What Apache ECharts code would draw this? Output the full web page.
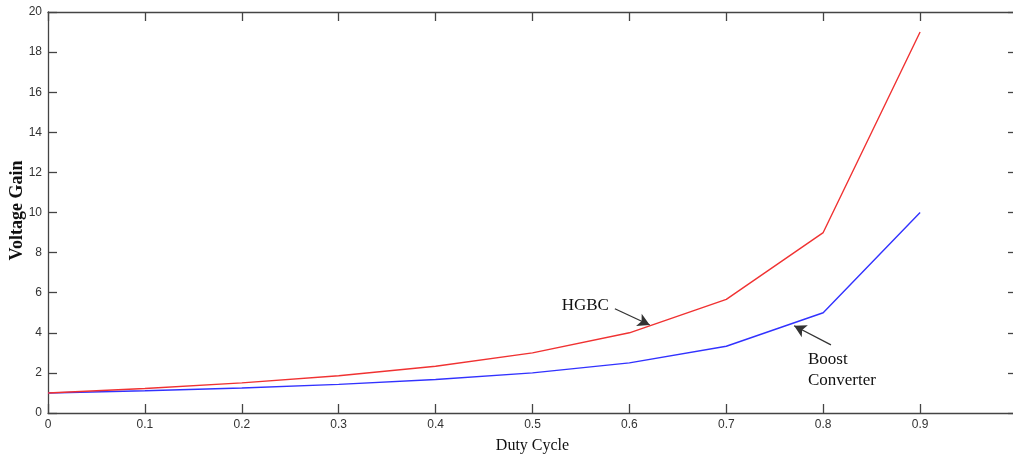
<!DOCTYPE html>
<html>
<head>
<meta charset="utf-8">
<script src="https://cdn.jsdelivr.net/npm/echarts@6/dist/echarts.min.js"></script>
<style>
  html, body { margin: 0; padding: 0; background: #fff; }
  #chart { width: 1013px; height: 457px; }
</style>
</head>
<body>
<div id="chart"></div>
<script>
// Duty cycle steps and voltage gain of the two converters
const dutyCycle = [0, 0.1, 0.2, 0.3, 0.4, 0.5, 0.6, 0.7, 0.8, 0.9];
const hgbcGain = [1.0, 1.22, 1.5, 1.86, 2.33, 3.0, 4.0, 5.67, 9.0, 19.0];
const boostGain = [1.0, 1.11, 1.25, 1.43, 1.67, 2.0, 2.5, 3.33, 5.0, 10.0];

// Annotation anchors in data units: [arrow tail, arrow tip]
const hgbcArrow = [[0.585, 5.2], [0.621, 4.39]];
const boostArrow = [[0.808, 3.4], [0.770, 4.35]];

const axisColor = '#444';
const tickFont = { fontFamily: '"Liberation Sans Narrow", "Liberation Sans", sans-serif', fontSize: 12, color: '#333' };
const serif = '"Liberation Serif", "DejaVu Serif", serif';

const chart = echarts.init(document.getElementById('chart'), null, { renderer: 'canvas' });

const boxAxis = {
  axisLine: { show: true, onZero: false, lineStyle: { color: axisColor, width: 1.3 } },
  axisTick: { show: true, inside: true, length: 9, lineStyle: { color: axisColor, width: 1.3 } },
  splitLine: { show: false }
};

function pairs(xs, ys) { return xs.map((x, i) => [x, ys[i]]); }

chart.setOption({
  animation: false,
  backgroundColor: '#fff',
  grid: { left: 48, right: -4, top: 12, bottom: 44, containLabel: false, outerBoundsMode: 'none' },
  xAxis: [
    Object.assign({
      type: 'value', min: 0, max: 1, interval: 0.1, position: 'bottom',
      name: 'Duty Cycle', nameLocation: 'middle', nameGap: 25,
      nameTextStyle: { fontFamily: serif, fontSize: 16, color: '#111' },
      axisLabel: Object.assign({ margin: 6, formatter: v => (Math.round(v * 10) / 10).toString() }, tickFont)
    }, boxAxis),
    Object.assign({
      type: 'value', min: 0, max: 1, interval: 0.1, position: 'top',
      axisLabel: { show: false }
    }, boxAxis)
  ],
  yAxis: [
    Object.assign({
      type: 'value', min: 0, max: 20, interval: 2, position: 'left',
      axisLabel: Object.assign({ margin: 6 }, tickFont)
    }, boxAxis),
    Object.assign({
      type: 'value', min: 0, max: 20, interval: 2, position: 'right',
      axisLabel: { show: false }
    }, boxAxis)
  ],
  series: [
    {
      name: 'Boost Converter', type: 'line', data: pairs(dutyCycle, boostGain),
      showSymbol: false, lineStyle: { color: '#3232ff', width: 1.4 }, z: 2,
      markLine: {
        silent: true, symbol: ['none', 'arrow'], symbolSize: [10, 12],
        lineStyle: { color: '#333', width: 1.3, type: 'solid' },
        label: { show: false },
        data: [[{ coord: boostArrow[0] }, { coord: boostArrow[1] }]]
      }
    },
    {
      name: 'HGBC', type: 'line', data: pairs(dutyCycle, hgbcGain),
      showSymbol: false, lineStyle: { color: '#f03232', width: 1.4 }, z: 3,
      markLine: {
        silent: true, symbol: ['none', 'arrow'], symbolSize: [10, 12],
        lineStyle: { color: '#333', width: 1.3, type: 'solid' },
        label: { show: false },
        data: [[{ coord: hgbcArrow[0] }, { coord: hgbcArrow[1] }]]
      }
    }
  ]
});

// Y-axis title and annotation text placed from grid coordinates
function placeLabels() {
  const h = chart.convertToPixel({ gridIndex: 0 }, hgbcArrow[0]);
  const b = chart.convertToPixel({ gridIndex: 0 }, boostArrow[0]);
  const yMid = chart.convertToPixel({ yAxisIndex: 0 }, 10);
  chart.setOption({
    graphic: [
      {
        type: 'text', x: 17, y: yMid - 2, rotation: Math.PI / 2,
        style: { text: 'Voltage Gain', font: 'bold 18px ' + serif, fill: '#111', textAlign: 'center', textVerticalAlign: 'middle' }
      },
      {
        type: 'text', x: h[0] - 6, y: h[1] - 3,
        style: { text: 'HGBC', font: '17px ' + serif, fill: '#111', textAlign: 'right', textVerticalAlign: 'middle' }
      },
      {
        type: 'text', x: b[0] - 23, y: b[1] + 4,
        style: { text: 'Boost\nConverter', font: '17px ' + serif, fill: '#111', textAlign: 'left', textVerticalAlign: 'top', lineHeight: 21 }
      }
    ]
  });
}
placeLabels();
</script>
</body>
</html>
